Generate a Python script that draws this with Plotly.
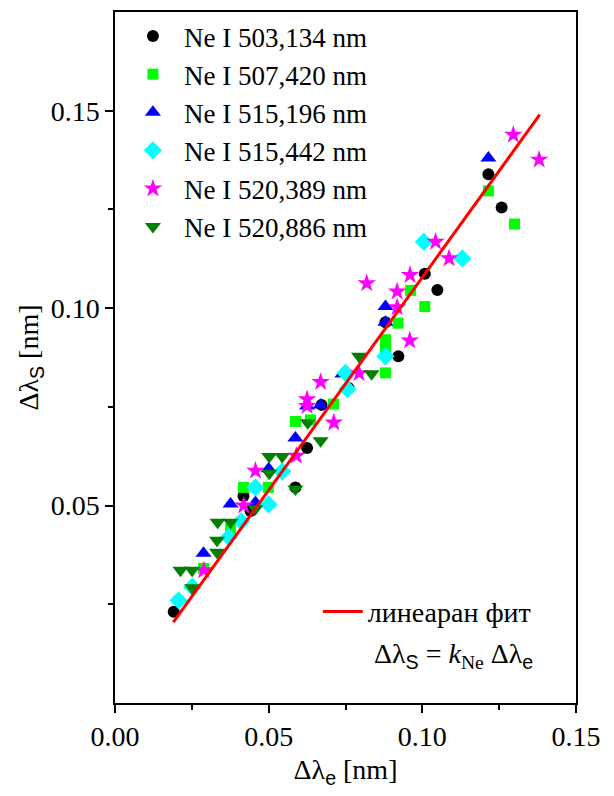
import plotly.graph_objects as go

# Measured line widths: Δλ_e (experimental) vs Δλ_S (Stark), nm
ne503_x = [0.0191, 0.0418, 0.0441, 0.0587, 0.0625, 0.0672, 0.0760, 0.0880, 0.0922, 0.1008, 0.1049, 0.1215, 0.1258]
ne503_y = [0.0231, 0.0524, 0.0486, 0.0546, 0.0646, 0.0755, 0.0798, 0.0964, 0.0878, 0.1087, 0.1046, 0.1339, 0.1255]

ne507_x = [0.0288, 0.0376, 0.0418, 0.0499, 0.0587, 0.0636, 0.0711, 0.0880, 0.0880, 0.0880, 0.0921, 0.0962, 0.1008, 0.1215, 0.1300]
ne507_y = [0.0341, 0.0440, 0.0546, 0.0546, 0.0713, 0.0717, 0.0757, 0.0836, 0.0899, 0.0920, 0.0962, 0.1045, 0.1004, 0.1297, 0.1213]

ne515a_x = [0.0252, 0.0288, 0.0376, 0.0457, 0.0500, 0.0587, 0.0625, 0.0669, 0.0740, 0.0880, 0.0880, 0.1215]
ne515a_y = [0.0298, 0.0379, 0.0504, 0.0508, 0.0593, 0.0671, 0.0752, 0.0755, 0.0833, 0.0964, 0.1004, 0.1380]

ne515b_x = [0.0207, 0.0251, 0.0370, 0.0411, 0.0457, 0.0500, 0.0544, 0.0750, 0.0756, 0.0880, 0.1005, 0.1130]
ne515b_y = [0.0260, 0.0294, 0.0420, 0.0460, 0.0546, 0.0503, 0.0586, 0.0836, 0.0795, 0.0878, 0.1168, 0.1126]

ne520a_x = [0.0289, 0.0419, 0.0457, 0.0590, 0.0625, 0.0625, 0.0669, 0.0712, 0.0794, 0.0819, 0.0918, 0.0918, 0.0959, 0.0960, 0.1043, 0.1087, 0.1296, 0.1380]
ne520a_y = [0.0336, 0.0500, 0.0588, 0.0626, 0.0752, 0.0769, 0.0813, 0.0710, 0.0835, 0.1063, 0.1002, 0.1042, 0.0918, 0.1084, 0.1168, 0.1126, 0.1439, 0.1376]

ne520b_x = [0.0213, 0.0251, 0.0251, 0.0332, 0.0332, 0.0334, 0.0376, 0.0457, 0.0502, 0.0544, 0.0502, 0.0587, 0.0627, 0.0669, 0.0794, 0.0835]
ne520b_y = [0.0336, 0.0336, 0.0292, 0.0412, 0.0382, 0.0458, 0.0458, 0.0492, 0.0624, 0.0624, 0.0582, 0.0542, 0.0710, 0.0664, 0.0878, 0.0834]

# Linear fit through the origin
k_ne = 1.078
fit_x = [0.019, 0.1382]

series = [
    ("Ne I 503,134 nm", ne503_x, ne503_y, "circle", "#000000", 12),
    ("Ne I 507,420 nm", ne507_x, ne507_y, "square", "#00ff00", 11),
    ("Ne I 515,196 nm", ne515a_x, ne515a_y, "triangle-up", "#0000ff", 14),
    ("Ne I 515,442 nm", ne515b_x, ne515b_y, "diamond", "#00ffff", 14),
    ("Ne I 520,389 nm", ne520a_x, ne520a_y, "star", "#ff00ff", 14),
    ("Ne I 520,886 nm", ne520b_x, ne520b_y, "triangle-down", "#008000", 14),
]

SERIF = "Liberation Serif"

fig = go.Figure()

for name, xs, ys, sym, col, sz in series:
    fig.add_trace(go.Scatter(
        x=xs, y=ys, mode="markers", name=name,
        marker=dict(symbol=sym, color=col, size=sz, line=dict(width=0)),
        legend="legend",
    ))

fig.add_trace(go.Scatter(
    x=fit_x, y=[k_ne * v for v in fit_x], mode="lines",
    name="линеаран фит",
    line=dict(color="#ff0000", width=3),
    legend="legend2",
))

sub_s = "<sub><span style=\"font-family:'Liberation Sans'\">S</span></sub>"
sub_e = "<sub><span style=\"font-family:'Liberation Sans'\">e</span></sub>"

fig.add_annotation(
    x=0.735, y=0.069, xref="paper", yref="paper",
    text=f"Δλ{sub_s} = <i>k</i><sub>Ne</sub> Δλ{sub_e}",
    showarrow=False, font=dict(family=SERIF, size=28, color="black"),
    xanchor="center", yanchor="middle",
)

axis_common = dict(
    showgrid=False, zeroline=False, showline=True, linecolor="black",
    linewidth=1.5, mirror=True, ticks="outside", ticklen=8, tickwidth=1.5,
    tickcolor="black", tickfont=dict(family=SERIF, size=28, color="black"),
    minor=dict(ticks="outside", ticklen=5, tickwidth=1.5, tickcolor="black"),
)

fig.update_xaxes(
    range=[0, 0.15], tickvals=[0, 0.05, 0.10, 0.15],
    ticktext=["0.00", "0.05", "0.10", "0.15"],
    title=dict(text=f"Δλ{sub_e} [nm]", font=dict(family=SERIF, size=28, color="black"), standoff=8),
    **axis_common,
)
fig.update_xaxes(minor=dict(tickvals=[0.025, 0.075, 0.125]))

fig.update_yaxes(
    range=[0, 0.175], tickvals=[0.05, 0.10, 0.15],
    ticktext=["0.05", "0.10", "0.15"],
    title=dict(text=f"Δλ{sub_s} [nm]", font=dict(family=SERIF, size=28, color="black"), standoff=4),
    **axis_common,
)
fig.update_yaxes(minor=dict(tickvals=[0.025, 0.075, 0.125]))

fig.update_layout(
    width=614, height=796,
    margin=dict(l=115, r=38, t=10, b=93),
    paper_bgcolor="white", plot_bgcolor="white",
    showlegend=True,
    legend=dict(
        x=0.015, y=1.0, xanchor="left", yanchor="top",
        bgcolor="rgba(0,0,0,0)", font=dict(family=SERIF, size=27, color="black"),
        itemwidth=52, itemsizing="trace",
    ),
    legend2=dict(
        x=0.44, y=0.132, xanchor="left", yanchor="middle",
        bgcolor="rgba(0,0,0,0)", font=dict(family=SERIF, size=28, color="black"),
        itemwidth=40,
    ),
)

fig.write_html("out.html")
